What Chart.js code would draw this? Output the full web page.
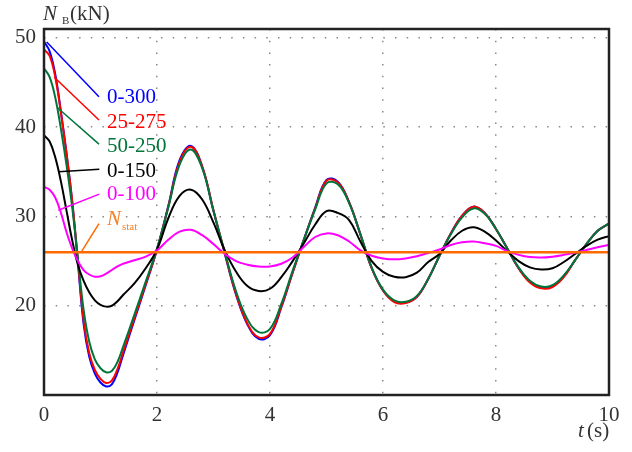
<!DOCTYPE html>
<html>
<head>
<meta charset="utf-8">
<script src="https://cdn.jsdelivr.net/npm/chart.js@4.4.1/dist/chart.umd.min.js"></script>
<style>
  html, body { margin: 0; padding: 0; background: #fff; }
  #wrap { width: 632px; height: 452px; }
</style>
</head>
<body>
<div id="wrap"><canvas id="chart" width="632" height="452"></canvas></div>
<script>
// time samples (s)
const times = [0, 0.1, 0.2, 0.3, 0.4, 0.5, 0.6, 0.7, 0.8, 0.9, 1.0, 1.1, 1.2, 1.3, 1.4,
  1.6, 1.8, 2.0, 2.2, 2.4, 2.6, 2.8, 3.0, 3.2, 3.4, 3.6, 3.8, 4.0, 4.2, 4.4, 4.6, 4.8,
  5.0, 5.2, 5.4, 5.6, 5.8, 6.0, 6.2, 6.4, 6.6, 6.8, 7.0, 7.2, 7.4, 7.6, 7.8, 8.0, 8.2,
  8.4, 8.6, 8.8, 9.0, 9.2, 9.4, 9.6, 9.8, 10.0];

// N_B (kN) for each case
const n0_300 = [49.6, 48.5, 45.9, 41.7, 37.0, 31.6, 24.8, 18.0, 14.3, 12.4, 11.4, 10.95, 11.2, 12.5, 14.5,
  18.4, 22.3, 26.3, 31.2, 36.3, 37.9, 35.6, 30.6, 25.8, 21.2, 17.9, 16.3, 16.7, 19.8, 23.7,
  27.4, 31.0, 34.1, 33.9, 31.6, 28.0, 24.2, 21.7, 20.5, 20.35, 21.0, 23.0, 25.6, 28.1, 30.1,
  31.1, 30.4, 28.6, 26.4, 24.2, 22.7, 22.05, 22.2, 23.3, 25.1, 26.9, 28.4, 29.2];
const n25_275 = [48.7, 48.0, 45.6, 41.6, 37.0, 31.7, 25.1, 18.4, 14.7, 12.8, 11.8, 11.35, 11.6, 12.9, 14.8,
  18.6, 22.4, 26.3, 31.1, 36.1, 37.8, 35.6, 30.7, 25.9, 21.3, 18.0, 16.45, 16.85, 19.9, 23.7,
  27.4, 30.9, 34.0, 33.8, 31.6, 28.0, 24.2, 21.7, 20.4, 20.3, 21.0, 23.0, 25.6, 28.1, 30.1,
  31.1, 30.4, 28.6, 26.4, 24.2, 22.6, 21.95, 22.1, 23.2, 25.1, 26.9, 28.4, 29.2];
const n50_250 = [46.6, 45.6, 43.3, 39.8, 35.7, 31.0, 25.3, 19.6, 16.0, 14.0, 13.0, 12.55, 12.7, 13.7, 15.4,
  19.0, 22.7, 26.4, 31.0, 35.8, 37.5, 35.4, 30.6, 26.0, 21.6, 18.5, 17.05, 17.4, 20.2, 23.9,
  27.4, 30.8, 33.7, 33.6, 31.5, 28.0, 24.3, 21.8, 20.6, 20.45, 21.1, 23.0, 25.6, 28.0, 29.9,
  30.9, 30.3, 28.6, 26.4, 24.3, 22.8, 22.15, 22.3, 23.4, 25.1, 26.9, 28.4, 29.2];
const n0_150 = [39.1, 38.4, 36.6, 33.9, 30.6, 27.3, 24.6, 22.8, 21.5, 20.6, 20.1, 19.9, 20.0, 20.5, 21.2,
  22.5, 24.2, 26.3, 29.8, 32.3, 33.0, 31.9, 29.3, 26.2, 23.8, 22.2, 21.65, 21.9, 23.2, 25.0,
  27.0, 29.1, 30.6, 30.4, 29.6, 27.2, 25.0, 23.8, 23.25, 23.2, 23.7, 24.9, 25.8, 27.3, 28.4,
  28.8, 28.3, 27.3, 26.1, 25.0, 24.3, 24.05, 24.2, 24.9, 25.8, 26.7, 27.4, 27.8];
const n0_100 = [33.3, 33.0, 32.1, 30.4, 28.2, 26.4, 25.0, 24.0, 23.5, 23.25, 23.3, 23.6, 24.0, 24.4, 24.7,
  25.1, 25.5, 26.2, 27.4, 28.3, 28.5, 27.9, 26.9, 25.8, 25.0, 24.6, 24.4, 24.4, 24.7, 25.4,
  26.6, 27.7, 28.1, 27.9, 27.2, 26.2, 25.6, 25.3, 25.2, 25.3, 25.55, 25.9, 26.3, 26.8, 27.1,
  27.2, 27.0, 26.7, 26.1, 25.7, 25.45, 25.4, 25.5, 25.7, 25.95, 26.25, 26.55, 26.8];
const nStat = 26.0;

const caseNames = ['0-300', '25-275', '50-250', '0-150', '0-100'];
const xTicks = [0, 2, 4, 6, 8, 10];
const yTicks = [20, 30, 40, 50];

const colors = {
  '0-300': '#0000ff', '25-275': '#ff0000', '50-250': '#00753a',
  '0-150': '#000000', '0-100': '#ff00ff', stat: '#ff6a00'
};

// leader lines and labels (in data units t, N)
const leaderFrom = [[0.048, 49.55], [0.182, 45.6], [0.235, 42.2], [0.253, 35.0], [0.253, 30.7], [0.667, 26.1]];
const leaderTo = [[0.973, 43.4], [0.973, 40.8], [0.973, 38.1], [0.979, 35.3], [0.979, 32.5], [0.973, 29.2]];
const labelAt = [[1.115, 42.7], [1.115, 39.96], [1.115, 37.21], [1.115, 34.47], [1.115, 31.84], [1.115, 29.04]];

const pts = arr => times.map((t, i) => ({ x: t, y: arr[i] }));
const line = (label, arr, color) => ({
  label, data: pts(arr), borderColor: color, borderWidth: 2,
  pointRadius: 0, tension: 0.4, fill: false
});

const serif = "'Liberation Serif', 'DejaVu Serif', serif";

const overlay = {
  id: 'overlay',
  afterDatasetsDraw(chart) {
    const { ctx, chartArea: a, scales: { x, y } } = chart;
    ctx.save();
    ctx.strokeStyle = '#222';
    ctx.lineWidth = 2.5;
    ctx.strokeRect(a.left, a.top, a.right - a.left, a.bottom - a.top);

    const names = caseNames.concat(['stat']);
    ctx.lineWidth = 1.5;
    names.forEach((name, i) => {
      ctx.strokeStyle = colors[name];
      ctx.beginPath();
      ctx.moveTo(x.getPixelForValue(leaderFrom[i][0]), y.getPixelForValue(leaderFrom[i][1]));
      ctx.lineTo(x.getPixelForValue(leaderTo[i][0]), y.getPixelForValue(leaderTo[i][1]));
      ctx.stroke();
    });

    ctx.textBaseline = 'alphabetic';
    ctx.textAlign = 'left';
    caseNames.forEach((name, i) => {
      ctx.fillStyle = colors[name];
      ctx.font = '21px ' + serif;
      ctx.fillText(name, x.getPixelForValue(labelAt[i][0]), y.getPixelForValue(labelAt[i][1]));
    });
    const sx = x.getPixelForValue(labelAt[5][0]);
    const sy = y.getPixelForValue(labelAt[5][1]);
    ctx.fillStyle = '#f5822a';
    ctx.font = 'italic 21px ' + serif;
    ctx.fillText('N', sx, sy);
    ctx.font = '11px ' + serif;
    ctx.fillText('stat', sx + 15, sy + 5);

    // axis titles
    ctx.fillStyle = '#333';
    ctx.font = 'italic 21px ' + serif;
    ctx.fillText('N', 43, 20);
    ctx.font = '11px ' + serif;
    ctx.fillText('B', 62, 24);
    ctx.font = '21px ' + serif;
    ctx.fillText('(kN)', 70, 20);
    ctx.font = 'italic 21px ' + serif;
    ctx.fillText('t', 578, 437);
    ctx.font = '21px ' + serif;
    ctx.fillText('(s)', 587, 437);
    ctx.restore();
  }
};

new Chart(document.getElementById('chart'), {
  type: 'line',
  data: {
    datasets: [
      { label: 'N_stat', data: [{ x: 0, y: nStat }, { x: 10, y: nStat }], borderColor: colors.stat,
        borderWidth: 2.5, pointRadius: 0, fill: false },
      line('0-100', n0_100, colors['0-100']),
      line('0-150', n0_150, colors['0-150']),
      line('50-250', n50_250, colors['50-250']),
      line('25-275', n25_275, colors['25-275']),
      line('0-300', n0_300, colors['0-300'])
    ]
  },
  options: {
    responsive: false,
    animation: false,
    devicePixelRatio: 1,
    layout: { padding: { top: 29, right: 23, left: 0, bottom: 0 } },
    plugins: { legend: { display: false }, tooltip: { enabled: false } },
    scales: {
      x: {
        type: 'linear', min: 0, max: 10,
        afterBuildTicks: s => { s.ticks = xTicks.map(v => ({ value: v })); },
        afterFit: s => { s.height = 57; },
        grid: { color: '#888', lineWidth: 1.5, drawTicks: false },
        border: { display: false, dash: [1.5, 10.2] },
        ticks: { color: '#333', padding: 8, font: { family: serif, size: 21 }, maxRotation: 0 }
      },
      y: {
        type: 'linear', min: 10, max: 51,
        afterBuildTicks: s => { s.ticks = yTicks.map(v => ({ value: v })); },
        afterFit: s => { s.width = 44; },
        grid: { color: '#888', lineWidth: 1.5, drawTicks: false },
        border: { display: false, dash: [1.5, 10.2] },
        ticks: { color: '#333', padding: 8, font: { family: serif, size: 21 } }
      }
    }
  },
  plugins: [overlay]
});
</script>
</body>
</html>
